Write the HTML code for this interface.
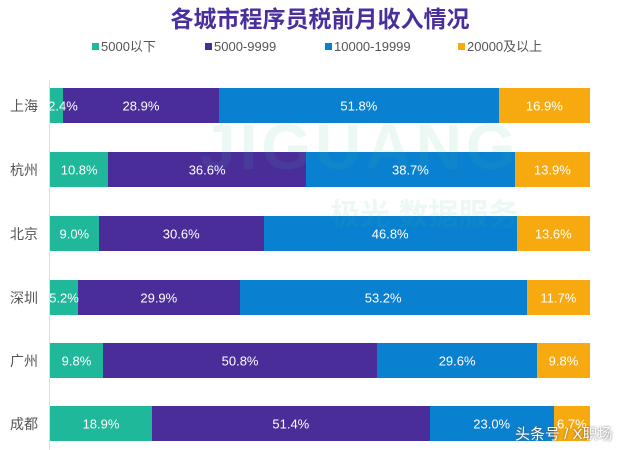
<!DOCTYPE html>
<html><head><meta charset="utf-8"><style>
body{margin:0;width:640px;height:450px;background:#fff;position:relative;overflow:hidden;font-family:"Liberation Sans","Noto Sans CJK SC",sans-serif}
.t{position:absolute;left:0;width:640px;top:4px;text-align:center;font-size:23px;line-height:30px;font-weight:bold;color:#4a2f9c}
.lg{position:absolute;top:39px;height:16px;line-height:16px;font-size:13px;color:#555;white-space:nowrap}
.lg i{display:inline-block;width:7px;height:7px;margin-right:2px;vertical-align:1px}
.ax{position:absolute;left:49px;top:80px;width:1px;height:370px;background:#dde}
.row{position:absolute;left:50px;width:540px;height:35px;display:flex}
.row div{position:relative;height:100%}
.row span{position:absolute;z-index:2;left:50%;top:50%;transform:translate(-50%,-50%);color:#fff;font-size:13px;white-space:nowrap}
.c{position:absolute;left:10px;font-size:14px;line-height:18px;color:#555}
.a{background:#1fb89a}.b{background:#4b2d9a}.d{background:#0a80d0}.e{background:#f6aa10}
.wm{position:absolute;color:rgba(60,190,150,0.10);font-weight:bold}
</style></head><body>
<div class="t">各城市程序员税前月收入情况</div>
<div class="lg" style="left:92px"><i class="a"></i>5000以下</div>
<div class="lg" style="left:205px"><i class="b"></i>5000-9999</div>
<div class="lg" style="left:325px"><i class="d"></i>10000-19999</div>
<div class="lg" style="left:458px"><i class="e"></i>20000及以上</div>
<div class="ax"></div>
<div class="row" style="top:88px"><div class="a" style="width:2.4%"><span style="left:13px">2.4%</span></div><div class="b" style="width:28.9%"><span>28.9%</span></div><div class="d" style="width:51.8%"><span>51.8%</span></div><div class="e" style="width:16.9%"><span>16.9%</span></div></div>
<div class="row" style="top:152px"><div class="a" style="width:10.8%"><span>10.8%</span></div><div class="b" style="width:36.6%"><span>36.6%</span></div><div class="d" style="width:38.7%"><span>38.7%</span></div><div class="e" style="width:13.9%"><span>13.9%</span></div></div>
<div class="row" style="top:216px"><div class="a" style="width:9.0%"><span>9.0%</span></div><div class="b" style="width:30.6%"><span>30.6%</span></div><div class="d" style="width:46.8%"><span>46.8%</span></div><div class="e" style="width:13.6%"><span>13.6%</span></div></div>
<div class="row" style="top:280px"><div class="a" style="width:5.2%"><span>5.2%</span></div><div class="b" style="width:29.9%"><span>29.9%</span></div><div class="d" style="width:53.2%"><span>53.2%</span></div><div class="e" style="width:11.7%"><span>11.7%</span></div></div>
<div class="row" style="top:343px"><div class="a" style="width:9.8%"><span>9.8%</span></div><div class="b" style="width:50.8%"><span>50.8%</span></div><div class="d" style="width:29.6%"><span>29.6%</span></div><div class="e" style="width:9.8%"><span>9.8%</span></div></div>
<div class="row" style="top:406px"><div class="a" style="width:18.9%"><span>18.9%</span></div><div class="b" style="width:51.4%"><span>51.4%</span></div><div class="d" style="width:23.0%"><span>23.0%</span></div><div class="e" style="width:6.7%"><span>6.7%</span></div></div>
<div class="c" style="top:97px">上海</div>
<div class="c" style="top:161px">杭州</div>
<div class="c" style="top:225px">北京</div>
<div class="c" style="top:289px">深圳</div>
<div class="c" style="top:352px">广州</div>
<div class="c" style="top:415px">成都</div>
<div class="wm" style="left:200px;top:110px;font-size:64px;letter-spacing:4px">JIGUANG</div>
<div class="wm" style="left:330px;top:190px;font-size:30px">极光 数据服务</div>
<div style="position:absolute;z-index:3;left:515px;top:423px;font-size:15px;color:#fff;text-shadow:0 0 2px #555">头条号 / X职场</div>
</body></html>
